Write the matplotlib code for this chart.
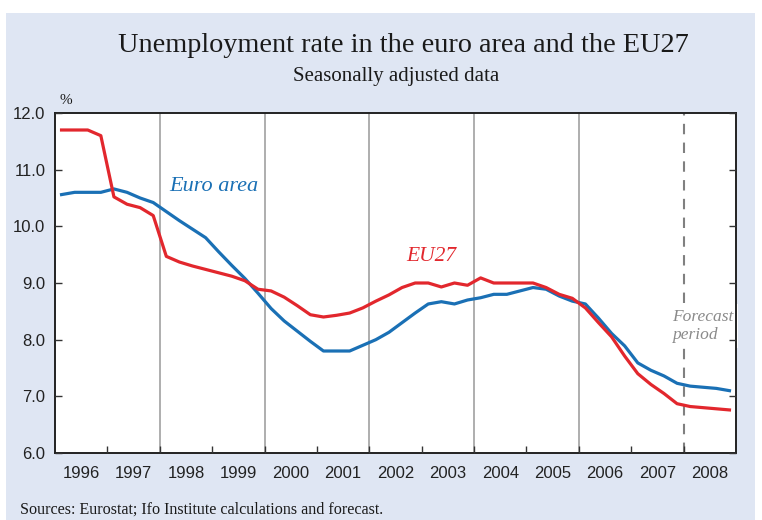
import matplotlib
matplotlib.use("Agg")
import matplotlib.pyplot as plt
from matplotlib.patches import Rectangle

# quarterly data, 1996Q1 .. 2008Q4
euro_area = [10.56, 10.60, 10.60, 10.60, 10.66, 10.60, 10.50, 10.42,
             10.26, 10.10, 9.95, 9.80, 9.55, 9.31, 9.08, 8.82,
             8.55, 8.33, 8.15, 7.97, 7.80, 7.80, 7.80, 7.90,
             8.00, 8.13, 8.30, 8.47, 8.63, 8.67, 8.63, 8.70,
             8.74, 8.80, 8.80, 8.86, 8.92, 8.89, 8.77, 8.68,
             8.63, 8.38, 8.11, 7.89, 7.59, 7.46, 7.36, 7.23,
             7.18, 7.16, 7.14, 7.10]
eu27 = [11.70, 11.70, 11.70, 11.60, 10.52, 10.39, 10.33, 10.19,
        9.47, 9.37, 9.30, 9.24, 9.18, 9.12, 9.04, 8.89,
        8.86, 8.75, 8.60, 8.44, 8.40, 8.43, 8.47, 8.56,
        8.68, 8.79, 8.92, 9.00, 9.00, 8.93, 9.00, 8.96,
        9.09, 9.00, 9.00, 9.00, 9.00, 8.92, 8.80, 8.73,
        8.56, 8.30, 8.05, 7.71, 7.40, 7.21, 7.05, 6.87,
        6.82, 6.80, 6.78, 6.76]
years = list(range(1996, 2009))
y_ticks = [6.0, 7.0, 8.0, 9.0, 10.0, 11.0, 12.0]
grid_years = [1998, 2000, 2002, 2004, 2006]
forecast_start = 2008

quarters = [1996 + (i + 0.5) / 4 for i in range(len(euro_area))]

serif = "Liberation Serif"
sans = "Liberation Sans"
blue = "#1a70b5"
red = "#e2272d"
bg = "#dfe6f3"

fig = plt.figure(figsize=(7.62, 5.2), dpi=100)
fig.patch.set_facecolor("white")
fig.patches.append(Rectangle((6 / 762, 0), 749 / 762, 507 / 520,
                             transform=fig.transFigure, facecolor=bg,
                             edgecolor="none", zorder=-10))

ax = fig.add_axes([55 / 762, 67 / 520, 681 / 762, 340 / 520])
ax.set_facecolor("white")

# vertical separators every two years, dashed one at forecast start
for yr in grid_years:
    ax.axvline(yr, color="#a8a8a8", lw=1.3, zorder=1)
ax.axvline(forecast_start, color="#808080", lw=1.5, ls=(0, (5, 4)), zorder=1)

ax.plot(quarters, euro_area, color=blue, lw=2.3, zorder=3)
ax.plot(quarters, eu27, color=red, lw=2.3, zorder=3)

ax.set_xlim(1996, 2009)
ax.set_ylim(6, 12)

ax.set_yticks(y_ticks)
ax.set_yticklabels([f"{v:.1f}" for v in y_ticks], fontfamily=sans, fontsize=12)
ax.set_xticks([yr + 0.5 for yr in years])
ax.set_xticklabels([str(yr) for yr in years], fontfamily=sans, fontsize=12)
ax.set_xticks(years[1:], minor=True)
ax.tick_params(axis="x", which="major", length=0, pad=9, colors="#222222")
ax.tick_params(axis="x", which="minor", direction="in", length=5, width=1, color="#333333")
ax.tick_params(axis="y", direction="in", length=5, width=1, right=True, color="#333333",
               labelcolor="#222222", pad=7)
ax.xaxis.set_zorder(6)
ax.yaxis.set_zorder(6)
for s in ax.spines.values():
    s.set_linewidth(1.4)
    s.set_color("#222222")
    s.set_zorder(6)

# series labels
ax.text(1998.19, 10.7, "Euro area", color=blue, fontfamily=serif, fontstyle="italic",
        fontsize=16, ha="left", va="center")
ax.text(2002.7, 9.46, "EU27", color=red, fontfamily=serif, fontstyle="italic",
        fontsize=15.5, ha="left", va="center")
ax.text(2007.78, 8.24, "Forecast\nperiod", color="#8a8a8a", fontfamily=serif,
        fontstyle="italic", fontsize=12.5, ha="left", va="center", multialignment="left",
        linespacing=1.2, bbox=dict(facecolor="white", edgecolor="none", pad=3.5), zorder=4)

fig.text(403 / 762, 1 - 45 / 520, "Unemployment rate in the euro area and the EU27",
         fontfamily=serif, fontsize=20.3, ha="center", va="center", color="#1a1a1a")
fig.text(396 / 762, 1 - 76 / 520, "Seasonally adjusted data",
         fontfamily=serif, fontsize=15, ha="center", va="center", color="#1a1a1a")
fig.text(60 / 762, 1 - 100 / 520, "%", fontfamily=serif, fontsize=11, ha="left",
         va="center", color="#1a1a1a")
fig.text(20 / 762, 1 - 510 / 520, "Sources: Eurostat; Ifo Institute calculations and forecast.",
         fontfamily=serif, fontsize=11.6, ha="left", va="center", color="#1a1a1a")

fig.savefig("out.png", dpi=100, facecolor=fig.get_facecolor())
